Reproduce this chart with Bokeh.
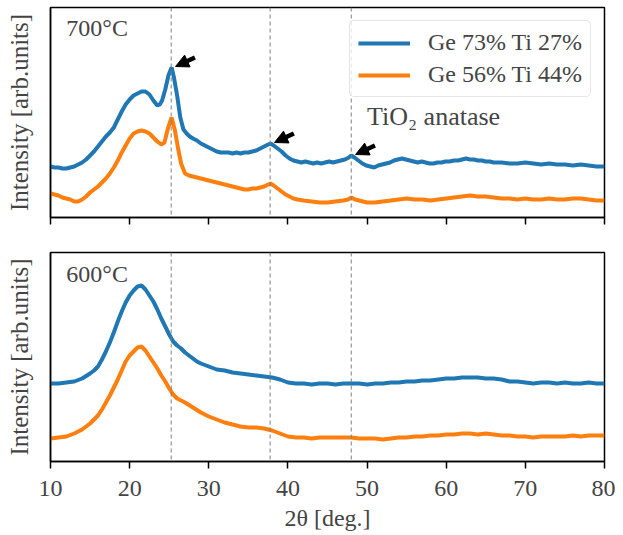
from bokeh.plotting import figure
from bokeh.layouts import column
from bokeh.models import Span, Legend, LegendItem, Arrow, NormalHead, Label, FixedTicker, Range1d
from bokeh.embed import file_html
from bokeh.resources import INLINE

# ---------------- data (2theta in deg., intensity in arb. units) ----------------
# 700 C, Ge 73% Ti 27%
top_blue_x = [10, 10.5, 11, 11.5, 12, 12.5, 13, 13.5, 14, 14.5,
              15, 15.5, 16, 16.5, 17, 17.5, 18, 18.5, 19, 19.5,
              20, 20.5, 21, 21.5, 22, 22.5, 23, 23.5, 23.8, 24.1,
              24.5, 24.9, 25.3, 25.6, 26.0, 26.4, 26.8, 27.2, 27.6, 28,
              28.5, 29, 29.5, 30, 30.5, 31, 31.5, 32, 32.5, 33,
              33.5, 34, 34.5, 35, 35.5, 36, 36.5, 37, 37.5, 37.8,
              38.2, 38.7, 39.2, 39.7, 40.2, 40.7, 41.2, 41.7, 42.2, 42.7,
              43.2, 43.7, 44.2, 44.7, 45.2, 45.7, 46.2, 46.7, 47.2, 47.7,
              48.0, 48.4, 48.9, 49.4, 49.9, 50.4, 50.9, 51.4, 51.9, 52.4,
              52.9, 53.4, 53.9, 54.4, 54.9, 55.4, 55.9, 56.4, 56.9, 57.4,
              57.9, 58.4, 58.9, 59.4, 59.9, 60.4, 61, 61.5, 62, 62.5,
              63, 63.5, 64, 64.5, 65, 65.5, 66, 66.5, 67, 68,
              69, 70, 71, 72, 73, 74, 75, 76, 77, 78,
              79, 80]
top_blue_y = [51, 50, 50, 49, 49, 50, 51, 53, 55, 58,
              62, 66, 71, 76, 81, 85, 90, 98, 106, 113,
              118, 122, 124, 126, 126, 123, 117, 112, 113, 117,
              128, 142, 150, 140, 122, 100, 88, 84, 81, 79,
              77, 74, 72, 70, 68, 66, 65, 65, 65, 64,
              65, 64, 65, 65, 66, 67, 69, 71, 73, 74,
              72, 69, 66, 62, 59, 57, 56, 55, 56, 55,
              54, 55, 54, 55, 56, 55, 56, 57, 58, 60,
              62, 60, 57, 54, 52, 51, 50, 52, 53, 54,
              55, 57, 58, 59, 58, 57, 56, 55, 56, 55,
              54, 54, 55, 55, 56, 56, 57, 57, 58, 59,
              58, 58, 57, 57, 56, 56, 55, 55, 55, 54,
              54, 55, 54, 53, 54, 53, 53, 52, 53, 52,
              51, 51]

# 700 C, Ge 56% Ti 44%
top_orange_x = [10, 10.5, 11, 11.5, 12, 12.5, 13, 13.5, 14, 14.5,
                15, 15.5, 16, 16.5, 17, 17.5, 18, 18.5, 19, 19.5,
                20, 20.5, 21, 21.5, 22, 22.5, 23, 23.5, 24, 24.4,
                24.8, 25.3, 25.7, 26.1, 26.5, 27, 27.5, 28, 28.5, 29,
                29.5, 30, 30.5, 31, 31.5, 32, 32.5, 33, 33.5, 34,
                34.5, 35, 35.5, 36, 36.5, 37, 37.5, 37.8, 38.2, 38.7,
                39.2, 39.7, 40.2, 40.7, 41.2, 42, 43, 44, 45, 46,
                47, 47.6, 48, 48.5, 49, 49.5, 50, 51, 52, 53,
                54, 55, 56, 57, 58, 59, 60, 61, 62, 63,
                64, 65, 66, 67, 68, 69, 70, 71, 72, 73,
                74, 75, 76, 77, 78, 79, 80]
top_orange_y = [24, 23, 22, 20, 19, 18, 16, 16, 18, 21,
                25, 28, 31, 35, 39, 44, 50, 57, 65, 72,
                79, 84, 86, 87, 86, 84, 80, 76, 73, 75,
                88, 100, 88, 70, 54, 44, 42, 41, 40, 39,
                38, 37, 36, 35, 34, 33, 32, 31, 30, 29,
                28, 28, 29, 29, 30, 31, 33, 34, 32, 29,
                26, 23, 21, 19, 18, 17, 16, 15, 15, 16,
                17, 18, 20, 18, 17, 16, 15, 15, 16, 17,
                18, 19, 18, 18, 17, 18, 19, 20, 21, 22,
                21, 21, 20, 19, 19, 18, 19, 18, 18, 19,
                18, 18, 19, 19, 18, 17, 17]

# 600 C, Ge 73% Ti 27%
bot_blue_x = [10, 11, 12, 13, 14, 15, 15.5, 16, 16.5, 17,
              17.5, 18, 18.5, 19, 19.5, 20, 20.5, 21, 21.5, 22,
              22.5, 23, 23.5, 24, 24.5, 25, 25.5, 26, 26.5, 27,
              27.5, 28, 28.5, 29, 30, 31, 32, 33, 34, 35,
              36, 37, 38, 39, 40, 41, 42, 43, 44, 45,
              46, 47, 48, 49, 50, 51, 52, 53, 54, 55,
              56, 57, 58, 59, 60, 61, 62, 63, 64, 65,
              66, 67, 68, 69, 70, 71, 72, 73, 74, 75,
              76, 77, 78, 79, 80]
bot_blue_y = [78, 78, 79, 80, 83, 88, 91, 95, 102, 110,
              119, 129, 140, 150, 159, 166, 171, 175, 176, 172,
              166, 160, 152, 143, 135, 127, 120, 116, 113, 109,
              106, 103, 100, 98, 95, 92, 91, 89, 88, 87,
              86, 85, 84, 82, 79, 78, 78, 77, 78, 78,
              77, 78, 78, 78, 77, 78, 78, 79, 79, 80,
              80, 81, 81, 82, 83, 83, 84, 84, 84, 83,
              83, 82, 80, 80, 79, 78, 79, 79, 78, 79,
              78, 78, 79, 78, 78]

# 600 C, Ge 56% Ti 44%
bot_orange_x = [10, 11, 12, 13, 14, 15, 15.5, 16, 16.5, 17,
                17.5, 18, 18.5, 19, 19.5, 20, 20.5, 21, 21.5, 22,
                22.5, 23, 23.5, 24, 24.5, 25, 25.5, 26, 26.5, 27,
                28, 29, 30, 31, 32, 33, 34, 35, 36, 37,
                38, 39, 40, 41, 42, 43, 44, 45, 46, 47,
                48, 49, 50, 51, 52, 53, 54, 55, 56, 57,
                58, 59, 60, 61, 62, 63, 64, 65, 66, 67,
                68, 69, 70, 71, 72, 73, 74, 75, 76, 77,
                78, 79, 80]
bot_orange_y = [23, 24, 25, 28, 32, 38, 42, 46, 52, 59,
                66, 74, 82, 91, 100, 106, 110, 114, 115, 111,
                105, 99, 93, 86, 80, 73, 67, 63, 61, 59,
                54, 49, 45, 42, 39, 37, 35, 34, 34, 33,
                31, 28, 25, 24, 24, 23, 24, 24, 24, 24,
                24, 23, 23, 23, 22, 23, 24, 24, 25, 25,
                26, 26, 27, 27, 28, 28, 27, 28, 27, 26,
                26, 25, 25, 24, 25, 25, 25, 25, 26, 25,
                26, 26, 26]

anatase_peaks = [25.25, 37.75, 48.0]
x_ticks = [10, 20, 30, 40, 50, 60, 70, 80]
series_labels = ["Ge 73% Ti 27%", "Ge 56% Ti 44%"]
temps = ["700°C", "600°C"]

BLUE = "#1f77b4"
ORANGE = "#ff7f0e"
FONT = "Liberation Serif"
FS = "24px"
LW = 4

xr = Range1d(10, 80)


def style(p, show_xlabels):
    p.xgrid.visible = False
    p.ygrid.visible = False
    p.outline_line_color = "black"
    p.outline_line_width = 1.5
    p.outline_line_alpha = 1
    p.yaxis.ticker = FixedTicker(ticks=[])
    p.yaxis.axis_line_width = 1.5
    p.yaxis.major_tick_line_color = None
    p.yaxis.minor_tick_line_color = None
    p.yaxis.major_label_text_font_size = "0px"
    p.yaxis.axis_label = "Intensity [arb.units]"
    p.yaxis.axis_label_text_font = FONT
    p.yaxis.axis_label_text_font_size = "25px"
    p.yaxis.axis_label_text_font_style = "normal"
    p.yaxis.axis_label_standoff = 18
    p.xaxis.ticker = FixedTicker(ticks=x_ticks, minor_ticks=[])
    p.xaxis.axis_line_width = 1.5
    p.xaxis.major_tick_line_width = 1.5
    p.xaxis.major_tick_out = 7
    p.xaxis.major_tick_in = 0
    p.xaxis.major_label_text_font = FONT
    p.xaxis.major_label_text_font_size = FS if show_xlabels else "0px"
    p.xaxis.major_label_standoff = 12
    p.background_fill_color = "white"
    p.border_fill_color = "white"
    for xp in anatase_peaks:
        p.add_layout(Span(location=xp, dimension="height", line_color="#7f7f7f",
                          line_dash="4 3", line_width=1))


p1 = figure(width=615, height=234, x_range=xr, y_range=Range1d(0, 210),
            output_backend="svg", toolbar_location=None,
            min_border_left=50, min_border_right=11, min_border_top=7, min_border_bottom=17)
style(p1, False)
r_b1 = p1.line(top_blue_x, top_blue_y, line_color=BLUE, line_width=LW)
r_o1 = p1.line(top_orange_x, top_orange_y, line_color=ORANGE, line_width=LW)

legend = Legend(items=[LegendItem(label=series_labels[0], renderers=[r_b1]),
                       LegendItem(label=series_labels[1], renderers=[r_o1])],
                location="top_right", margin=13, padding=8, spacing=5,
                glyph_width=52, glyph_height=20, label_standoff=18,
                label_text_font=FONT, label_text_font_size=FS,
                border_line_color="#cccccc", border_line_width=1.5, border_radius=5,
                background_fill_alpha=0.8)
p1.add_layout(legend)

p1.add_layout(Label(x=12.0, y=190, text=temps[0], text_font=FONT, text_font_size=FS,
                    text_baseline="middle", text_align="left"))
p1.add_layout(Label(x=50.0, y=101, text="TiO\u2082 anatase", text_font=FONT, text_font_size="26px",
                    text_baseline="middle", text_align="left"))

# arrows pointing at the anatase peaks of the blue curve
for xp in anatase_peaks:
    vp = max(v for x, v in zip(top_blue_x, top_blue_y) if abs(x - xp) <= 0.5)
    p1.add_layout(Arrow(end=NormalHead(size=13, fill_color="black", line_color="black", line_width=1),
                        x_start=xp + 3.0, y_start=vp + 10, x_end=xp + 0.55, y_end=vp + 1,
                        line_color="black", line_width=4.5))

p2 = figure(width=615, height=300, x_range=xr, y_range=Range1d(0, 209),
            output_backend="svg", toolbar_location=None,
            min_border_left=50, min_border_right=11, min_border_top=18, min_border_bottom=73)
style(p2, True)
p2.xaxis.axis_label = "2θ [deg.]"
p2.xaxis.axis_label_text_font = FONT
p2.xaxis.axis_label_text_font_size = FS
p2.xaxis.axis_label_text_font_style = "normal"
p2.xaxis.axis_label_standoff = 6
p2.line(bot_blue_x, bot_blue_y, line_color=BLUE, line_width=LW)
p2.line(bot_orange_x, bot_orange_y, line_color=ORANGE, line_width=LW)
p2.add_layout(Label(x=12.0, y=188, text=temps[1], text_font=FONT, text_font_size=FS,
                    text_baseline="middle", text_align="left"))

layout = column(p1, p2, spacing=0)
open("out.html", "w").write(file_html(layout, INLINE))
